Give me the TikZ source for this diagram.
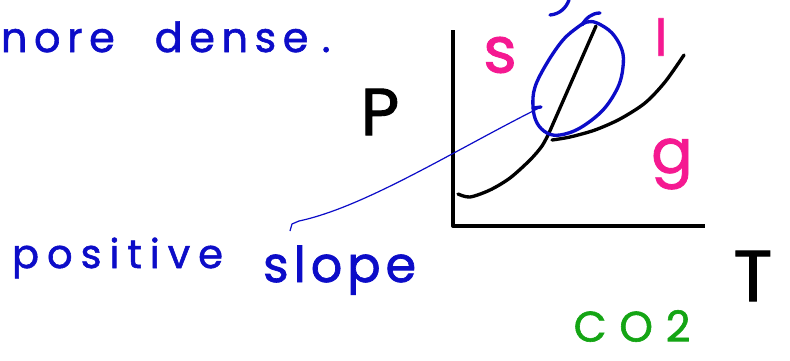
\documentclass[tikz,border=0pt]{standalone}
\usepackage{fontspec}
\setmainfont{Poppins}
\newfontfamily\handfont{Poppins}[UprightFeatures={FakeBold=1.4}]
\definecolor{inkblue}{RGB}{12,12,200}
\definecolor{inkpink}{RGB}{245,25,145}
\definecolor{inkgreen}{RGB}{20,165,20}
\begin{document}
\begin{tikzpicture}[x=0.75pt,y=-0.75pt,
  ink/.style={line width=2.5pt,line cap=round,line join=round},
  hand/.style={inner sep=0pt,outer sep=0pt},
]
\useasboundingbox (0,0) rectangle (790,361);
\clip (0,0) rectangle (790,361);
\fill[white] (0,0) rectangle (790,361);

% texts
\node[hand,anchor=base west,text=inkblue,font={\fontsize{31}{36}\handfont\addfontfeature{LetterSpace=16}}] (dense) at (1,52) {nore\hspace{30pt}dense\hspace{10pt}.};
\node[hand,anchor=base west,text=inkblue,font={\fontsize{30}{36}\handfont\addfontfeature{LetterSpace=20}}] (positive) at (12,268) {positive};
\node[hand,anchor=base west,text=inkblue,font={\fontsize{37}{44}\handfont\addfontfeature{LetterSpace=10}}] (slope) at (263,282) {slope};
\node[hand,text=black,font={\fontsize{50}{60}\handfont}] (P) at (380,112) {P};
\node[hand,text=black,font={\fontsize{54}{64}\handfont}] (T) at (753,276) {T};
\node[hand,text=inkgreen,font={\fontsize{32}{38}\handfont\addfontfeature{LetterSpace=30}}] (co2) at (632,326) {CO2};
\node[hand,text=inkpink,font={\fontsize{48}{58}\handfont}] (s) at (500,55) {s};
\node[hand,text=inkpink,font={\fontsize{38}{44}\handfont}] (l) at (661,37) {l};
\node[hand,text=inkpink,font={\fontsize{46}{56}\handfont}] (g) at (672,164) {g};

% axes
\coordinate (O) at (453,226);
\coordinate (ytop) at (453,30);
\coordinate (xend) at (705,226);
\draw[ink,line cap=butt] (ytop) -- (O) -- (xend);

% phase curves
\coordinate (triple) at (549,133);
\coordinate (fusTop) at (596,26);
\draw[ink] plot[smooth] coordinates {(458,194) (470,197) (490,190) (510,178) (530,160) (542,146) (triple)};
\draw[ink] (triple) -- (fusTop);
\draw[ink] plot[smooth] coordinates {(552,140) (570,137) (595,130) (620,119) (645,103) (665,82) (684,55)};

% blue ellipse
\draw[ink,inkblue] plot[smooth cycle,tension=0.6] coordinates {(587,22) (597,23) (612,33) (622,50) (623,67) (618,87) (603,110) (580,128) (560,135) (547,133) (537,123) (533,107) (535,87) (547,63) (563,40) (578,27)};
\draw[ink,inkblue] (582,25) .. controls (586,18) and (592,13) .. (600,13);
\draw[ink,inkblue] (550,15) .. controls (560,14) and (566,8) .. (569,0);

% connector
\coordinate (ellL) at (541,107);
\coordinate (hook) at (292,224);
\draw[ink,inkblue] (533,108) -- (ellL);
\draw[inkblue,line width=0.9pt,line join=round] (ellL) .. controls (455,150) and (365,207) .. (299,221) -- (hook) -- (290,231);
\end{tikzpicture}
\end{document}
